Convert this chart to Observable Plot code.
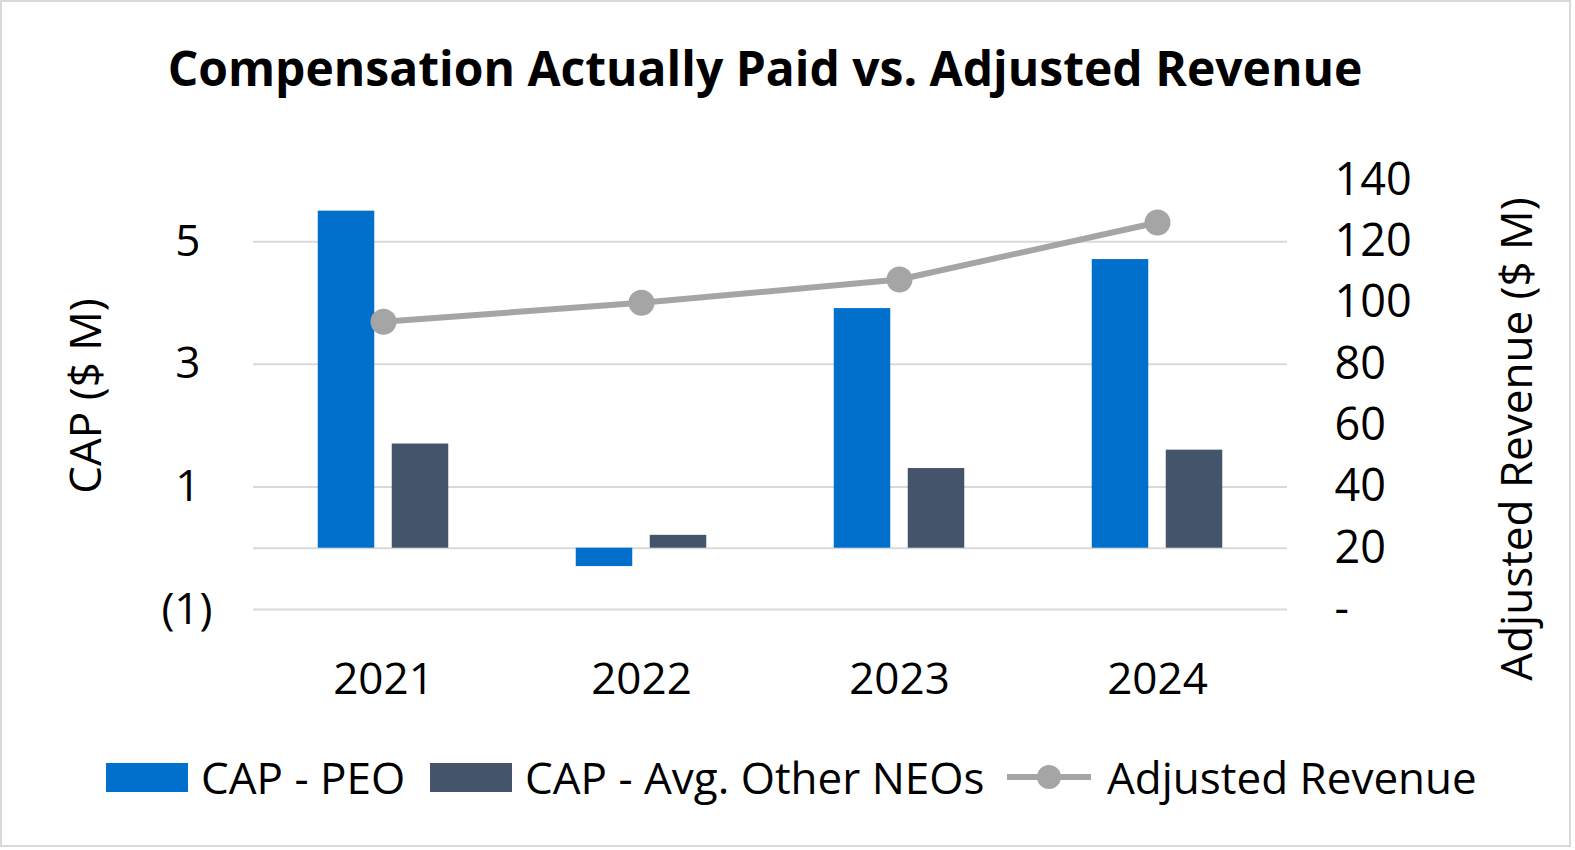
<!DOCTYPE html>
<html>
<head>
<meta charset="utf-8">
<script src="https://cdn.jsdelivr.net/npm/d3@7"></script>
<script src="https://cdn.jsdelivr.net/npm/@observablehq/plot@0.6"></script>
<style>
  html, body { margin: 0; padding: 0; background: #fff; }
  body { width: 1575px; height: 850px; position: relative; overflow: hidden; font-family: "Open Sans", sans-serif; color: #000; }
  #frame { position: absolute; left: 0; top: 0; width: 1567px; height: 843px; border: 2px solid #d9d9d9; }
  #title { position: absolute; left: 0; width: 1530px; top: 36px; text-align: center; font-size: 48px; font-weight: 700; line-height: 64px; }
  #chart { position: absolute; left: 0; top: 110px; }
  .ylab { position: absolute; font-size: 44px; white-space: nowrap; transform: translate(-50%, -50%) rotate(-90deg); line-height: 1; }
  #legend { position: absolute; top: 752px; left: 0; width: 1575px; height: 50px; font-size: 44px; }
  .item { position: absolute; top: 0; height: 50px; display: flex; align-items: center; white-space: nowrap; }
  .sw { width: 82px; height: 29px; margin-right: 13px; }
</style>
</head>
<body>
<div id="frame"></div>
<div id="title">Compensation Actually Paid vs. Adjusted Revenue</div>
<div id="chart"></div>
<div class="ylab" style="left:84px; top:396px;">CAP ($ M)</div>
<div class="ylab" style="left:1515px; top:439px;">Adjusted Revenue ($ M)</div>
<div id="legend"></div>
<script>
// ---- data ----
const years = ["2021", "2022", "2023", "2024"];
const capPEO = [5.50, -0.30, 3.91, 4.71];
const capNEO = [1.70, 0.21, 1.30, 1.60];
const revenue = [93.9, 100.1, 107.7, 126.3];
const leftTicks = [-1, 1, 3, 5];
const rightTicks = [0, 20, 40, 60, 80, 100, 120, 140];
const seriesNames = ["CAP - PEO", "CAP - Avg. Other NEOs", "Adjusted Revenue"];

const colPEO = "#0070cc";
const colNEO = "#44546a";
const colRev = "#a5a5a5";

// revenue (right axis, 0..140) mapped onto left-axis units (-1..6)
const revToLeft = r => -1 + r / 20;

const rows = years.map((y, i) => ({year: y, peo: capPEO[i], neo: capNEO[i], rev: revenue[i]}));

const W = 1575, H = 600;
const marginLeft = 253, marginRight = 288;
const band = (W - marginLeft - marginRight) / years.length;
const barW = 57, gap = 17;
const off = (band - (2 * barW + gap)) / 2;
const fmtLeft = v => v < 0 ? `(${-v})` : String(v);

const chart = Plot.plot({
  width: W,
  height: H,
  marginLeft, marginRight,
  marginTop: 70,
  marginBottom: 101,
  style: {fontFamily: "Open Sans, sans-serif", fontSize: "44px", color: "#000", background: "transparent", overflow: "visible"},
  x: {type: "band", domain: years, padding: 0, label: null},
  y: {domain: [-1, 6], label: null},
  marks: [
    Plot.ruleY([-1, 0, 1, 3, 5], {stroke: "#d9d9d9", strokeWidth: 2}),
    Plot.barY(rows, {x: "year", y: "peo", fill: colPEO, insetLeft: off, insetRight: band - off - barW}),
    Plot.barY(rows, {x: "year", y: "neo", fill: colNEO, insetLeft: off + barW + gap, insetRight: off}),
    Plot.line(rows, {x: "year", y: d => revToLeft(d.rev), stroke: colRev, strokeWidth: 6}),
    Plot.dot(rows, {x: "year", y: d => revToLeft(d.rev), r: 13, fill: colRev}),
    Plot.axisX({tickSize: 0, tickPadding: 53, fontSize: 44, label: null}),
    Plot.axisY(leftTicks.filter(v => v >= 0), {anchor: "left", tickSize: 0, tickPadding: 53, fontSize: 44, label: null, tickFormat: fmtLeft}),
    Plot.axisY(leftTicks.filter(v => v < 0), {anchor: "left", tickSize: 0, tickPadding: 41, fontSize: 44, label: null, tickFormat: fmtLeft}),
    Plot.axisY(rightTicks.map(revToLeft), {anchor: "right", tickSize: 0, tickPadding: 47, fontSize: 45, label: null,
      tickFormat: v => { const r = Math.round((v + 1) * 20); return r === 0 ? "-" : String(r); }})
  ]
});
document.getElementById("chart").appendChild(chart);

// ---- legend ----
const legend = document.getElementById("legend");
const items = [
  {name: seriesNames[0], left: 106, kind: "bar", color: colPEO},
  {name: seriesNames[1], left: 430, kind: "bar", color: colNEO},
  {name: seriesNames[2], left: 1007, kind: "line", color: colRev}
];
for (const it of items) {
  const d = document.createElement("div");
  d.className = "item";
  d.style.left = it.left + "px";
  if (it.kind === "bar") {
    const s = document.createElement("div");
    s.className = "sw";
    s.style.background = it.color;
    d.appendChild(s);
  } else {
    const ns = "http://www.w3.org/2000/svg";
    const svg = document.createElementNS(ns, "svg");
    svg.setAttribute("width", 84); svg.setAttribute("height", 30);
    svg.style.marginRight = "16px";
    const l = document.createElementNS(ns, "line");
    l.setAttribute("x1", 0); l.setAttribute("x2", 84); l.setAttribute("y1", 15); l.setAttribute("y2", 15);
    l.setAttribute("stroke", it.color); l.setAttribute("stroke-width", 6);
    const c = document.createElementNS(ns, "circle");
    c.setAttribute("cx", 42); c.setAttribute("cy", 15); c.setAttribute("r", 12); c.setAttribute("fill", it.color);
    svg.appendChild(l); svg.appendChild(c);
    d.appendChild(svg);
  }
  const t = document.createElement("span");
  t.textContent = it.name;
  d.appendChild(t);
  legend.appendChild(d);
}
</script>
</body>
</html>
